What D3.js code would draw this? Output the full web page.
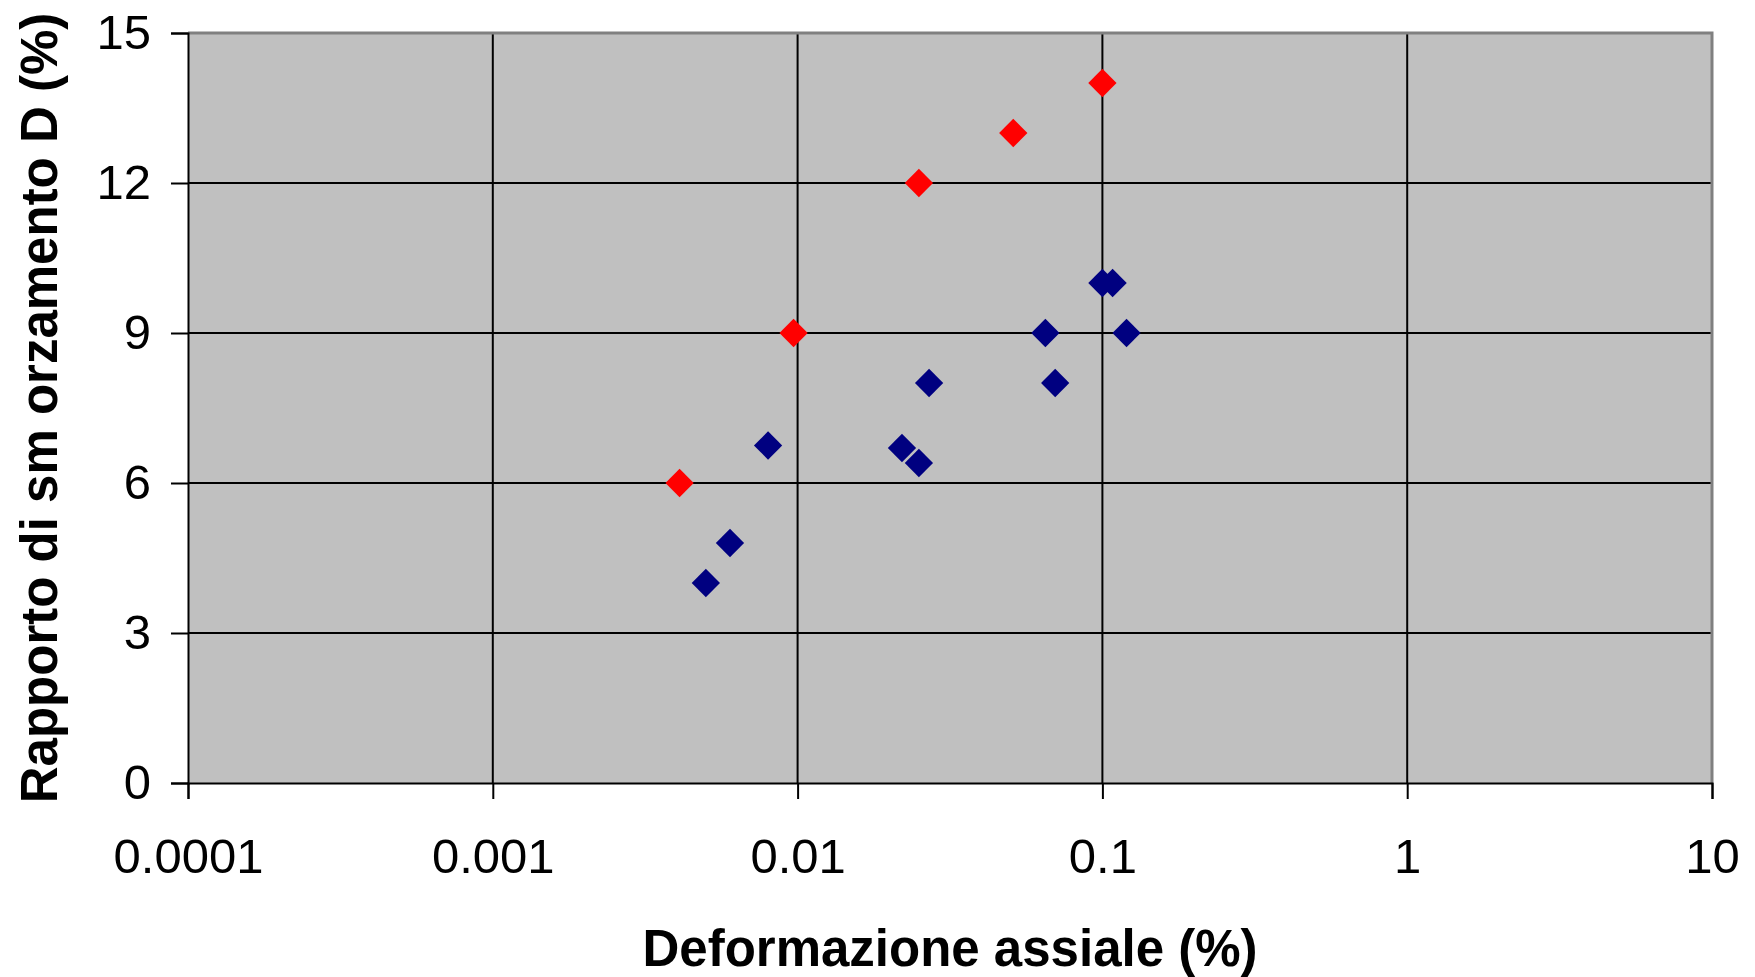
<!DOCTYPE html>
<html>
<head>
<meta charset="utf-8">
<script src="https://cdn.jsdelivr.net/npm/d3@7"></script>
<style>
  html, body { margin: 0; padding: 0; background: #fff; }
  svg { display: block; font-family: "Liberation Sans", Arial, sans-serif; }
</style>
</head>
<body>
<svg id="chart" width="1755" height="977"></svg>
<script>
// Series: axial strain (%) vs damping ratio D (%)
const redStrain   = [0.0041, 0.0097, 0.025, 0.051, 0.1];
const redDamping  = [6, 9, 12, 13, 14];
const blueStrain  = [0.005, 0.006, 0.008, 0.022, 0.025, 0.027, 0.065, 0.07, 0.1, 0.108, 0.12];
const blueDamping = [4, 4.8, 6.75, 6.7, 6.4, 8, 9, 8, 10, 10, 9];

const xTicks = [0.0001, 0.001, 0.01, 0.1, 1, 10];
const xTickLabels = ["0.0001", "0.001", "0.01", "0.1", "1", "10"];
const yTicks = [0, 3, 6, 9, 12, 15];

const xTitle = "Deformazione assiale (%)";
const yTitle = "Rapporto di sm orzamento D (%)";

const svg = d3.select("#chart");
const plot = { left: 188, right: 1712, top: 33, bottom: 783 };

const x = d3.scaleLog().domain([0.0001, 10]).range([plot.left, plot.right]);
const y = d3.scaleLinear().domain([0, 15]).range([plot.bottom, plot.top]);

// plot background
svg.append("rect")
  .attr("x", plot.left).attr("y", plot.top)
  .attr("width", plot.right - plot.left).attr("height", plot.bottom - plot.top)
  .attr("fill", "#c0c0c0");

// gridlines
const grid = svg.append("g").attr("stroke", "#000").attr("stroke-width", 2);
grid.selectAll("line.h").data(yTicks.filter(v => v > 0 && v < 15)).enter().append("line")
  .attr("x1", plot.left).attr("x2", plot.right)
  .attr("y1", d => y(d)).attr("y2", d => y(d));
grid.selectAll("line.v").data(xTicks.filter(v => v > 0.0001 && v < 10)).enter().append("line")
  .attr("y1", plot.top).attr("y2", plot.bottom)
  .attr("x1", d => x(d)).attr("x2", d => x(d));

// top and right frame
svg.append("path")
  .attr("d", `M${plot.left},${plot.top}H${plot.right}V${plot.bottom}`)
  .attr("fill", "none").attr("stroke", "#808080").attr("stroke-width", 3);

// axes
const fontSize = 49;
const yAxis = svg.append("g")
  .attr("transform", `translate(${plot.left},0)`)
  .call(d3.axisLeft(y).tickValues(yTicks).tickSize(17).tickPadding(20).tickFormat(d3.format("d")));
const xAxis = svg.append("g")
  .attr("transform", `translate(0,${plot.bottom})`)
  .call(d3.axisBottom(x).tickValues(xTicks).tickSize(16).tickPadding(39)
    .tickFormat((d, i) => xTickLabels[i]));

[xAxis, yAxis].forEach(g => {
  g.select(".domain").attr("stroke", "#000").attr("stroke-width", 2);
  g.selectAll(".tick line").attr("stroke", "#000").attr("stroke-width", 2);
  g.selectAll(".tick text")
    .attr("fill", "#000")
    .style("font-size", fontSize + "px")
    .style("font-family", "'Liberation Sans', Arial, sans-serif");
});

// markers: diamonds
const diamond = d3.symbol().type(d3.symbolSquare).size(400);
function drawSeries(xs, ys, color) {
  svg.append("g").selectAll("path")
    .data(xs.map((v, i) => [v, ys[i]]))
    .enter().append("path")
    .attr("d", diamond)
    .attr("transform", d => `translate(${x(d[0])},${y(d[1])}) rotate(45)`)
    .attr("fill", color);
}
drawSeries(blueStrain, blueDamping, "#000080");
drawSeries(redStrain, redDamping, "#ff0000");

// axis titles
svg.append("text")
  .attr("x", (plot.left + plot.right) / 2).attr("y", 966)
  .attr("text-anchor", "middle")
  .style("font-size", "51px").style("font-weight", "bold")
  .text(xTitle);

svg.append("text")
  .attr("transform", `translate(57,${(plot.top + plot.bottom) / 2}) rotate(-90)`)
  .attr("text-anchor", "middle")
  .style("font-size", "51px").style("font-weight", "bold")
  .text(yTitle);
</script>
</body>
</html>
